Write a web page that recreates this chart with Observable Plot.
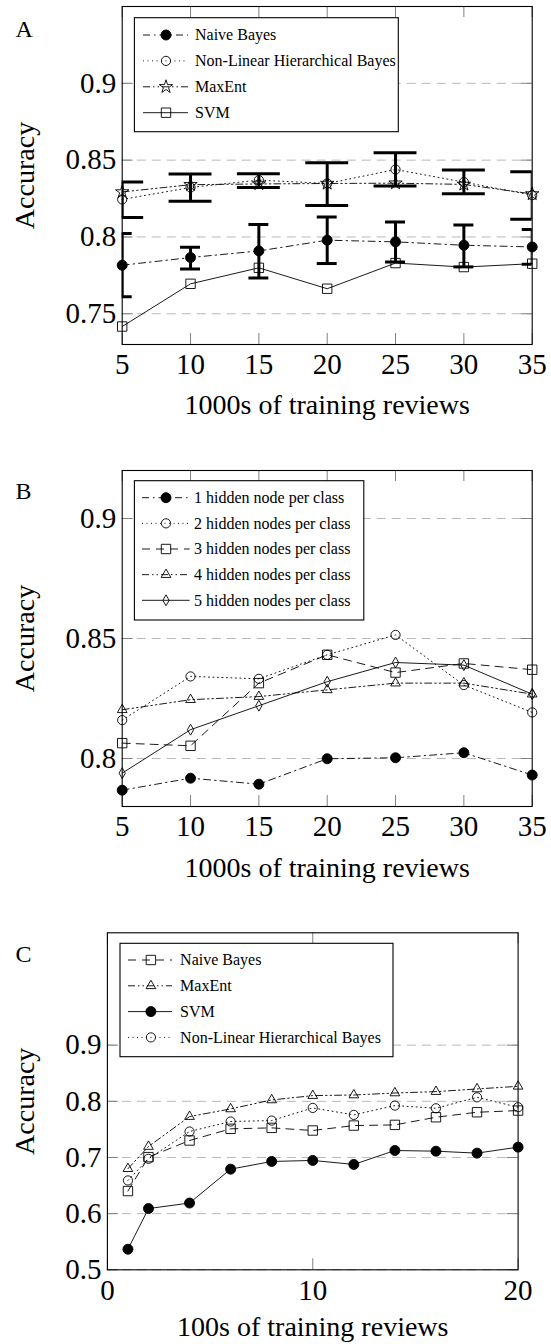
<!DOCTYPE html>
<html><head><meta charset="utf-8">
<script src="https://cdn.jsdelivr.net/npm/d3@7"></script>
<script src="https://cdn.jsdelivr.net/npm/@observablehq/plot@0.6"></script>
<style>
body{margin:0;background:#fff;}
#root{position:relative;width:551px;height:1344px;background:#fff;overflow:hidden;}
#root svg{position:absolute;left:0;}
</style></head><body><div id="root"></div>
<script>
// ---------- Panel A data ----------
const A_x = [5, 10, 15, 20, 25, 30, 35];
const A_naiveBayes      = [0.7816, 0.7866, 0.7909, 0.7979, 0.7968, 0.7946, 0.7935];
const A_naiveBayesLow   = [0.7610, 0.7792, 0.7733, 0.7827, 0.7837, 0.7805, 0.7822];
const A_naiveBayesHigh  = [0.8022, 0.7933, 0.8081, 0.8130, 0.8098, 0.8078, 0.8048];
const A_nlhb            = [0.8244, 0.8322, 0.8370, 0.8348, 0.8439, 0.8357, 0.8272];
const A_nlhbLow         = [0.8126, 0.8233, 0.8322, 0.8204, 0.8331, 0.8281, 0.8115];
const A_nlhbHigh        = [0.8357, 0.8409, 0.8411, 0.8483, 0.8548, 0.8435, 0.8424];
const A_maxEnt          = [0.8293, 0.8340, 0.8345, 0.8348, 0.8350, 0.8342, 0.8280];
const A_svm             = [0.7417, 0.7695, 0.7799, 0.7663, 0.7830, 0.7804, 0.7826];
const A_labels = ["Naive Bayes", "Non-Linear Hierarchical Bayes", "MaxEnt", "SVM"];
const A_xTicks = [5, 10, 15, 20, 25, 30, 35];
const A_yTicks = [0.75, 0.8, 0.85, 0.9];

// ---------- Panel B data ----------
const B_x = [5, 10, 15, 20, 25, 30, 35];
const B_hidden1 = [0.7868, 0.7918, 0.7893, 0.7999, 0.8003, 0.8024, 0.7931];
const B_hidden2 = [0.8160, 0.8342, 0.8332, 0.8432, 0.8515, 0.8306, 0.8192];
const B_hidden3 = [0.8064, 0.8053, 0.8314, 0.8432, 0.8358, 0.8396, 0.8370];
const B_hidden4 = [0.8203, 0.8245, 0.8258, 0.8286, 0.8314, 0.8314, 0.8268];
const B_hidden5 = [0.7939, 0.8120, 0.8220, 0.8320, 0.8400, 0.8389, 0.8268];
const B_labels = ["1 hidden node per class", "2 hidden nodes per class", "3 hidden nodes per class", "4 hidden nodes per class", "5 hidden nodes per class"];
const B_xTicks = [5, 10, 15, 20, 25, 30, 35];
const B_yTicks = [0.8, 0.85, 0.9];

// ---------- Panel C data ----------
const C_x = [1, 2, 4, 6, 8, 10, 12, 14, 16, 18, 20];
const C_naiveBayes = [0.6402, 0.7006, 0.7302, 0.7510, 0.7527, 0.7480, 0.7568, 0.7580, 0.7716, 0.7805, 0.7835];
const C_maxEnt     = [0.6800, 0.7195, 0.7728, 0.7864, 0.8024, 0.8101, 0.8112, 0.8148, 0.8172, 0.8220, 0.8267];
const C_svm        = [0.5366, 0.6090, 0.6189, 0.6792, 0.6929, 0.6947, 0.6876, 0.7124, 0.7112, 0.7077, 0.7184];
const C_nlhb       = [0.6591, 0.6976, 0.7462, 0.7640, 0.7657, 0.7882, 0.7758, 0.7924, 0.7876, 0.8071, 0.7894];
const C_labels = ["Naive Bayes", "MaxEnt", "SVM", "Non-Linear Hierarchical Bayes"];
const C_xTicks = [0, 10, 20];
const C_yTicks = [0.5, 0.6, 0.7, 0.8, 0.9];

// ---------- styles ----------
const FONT = "'Liberation Serif', 'Times New Roman', serif";
const DASH = {solid: null, dotted: "1,3.5", dashed: "8,6", dashdot: "7,4,1.5,4", dashdotdot: "7,3,1.5,3,1.5,3"};
const MARK = {
  fcircle: {symbol: "circle", r: 5, fill: "black"},
  ocircle: {symbol: "circle", r: 4.6, fill: "none"},
  square: {symbol: "square", r: 5.3, fill: "none"},
  triangle: {symbol: "triangle", r: 3.6, fill: "none"},
  diamond: {symbol: "diamond", r: 3.3, fill: "none"},
  star: {symbol: "star", r: 4.2, fill: "none"}
};
const SYM = {circle: d3.symbolCircle, square: d3.symbolSquare, triangle: d3.symbolTriangle, diamond: d3.symbolDiamond, star: d3.symbolStar};

function rows(xs, ys) { return xs.map((x, i) => ({x, y: ys[i]})); }

function makePanel(cfg) {
  const {top, height, ml, mr, mt, mb, xDomain, yDomain, xTicks, yTicks, series, errors = [], letter, letterBase, xLabel, xLabelDy, xTickPad, legend} = cfg;
  const frameH = height - mt - mb, frameW = 551 - ml - mr;
  const marks = [
    Plot.ruleY(yTicks, {y: d => d, stroke: "#b8b8b8", strokeWidth: 1, strokeDasharray: "9,6"}),
    Plot.tickX(xTicks, {x: d => d, stroke: "#808080", strokeWidth: 1, insetTop: frameH - 11}),
    Plot.tickX(xTicks, {x: d => d, stroke: "#808080", strokeWidth: 1, insetBottom: frameH - 11}),
    Plot.tickY(yTicks, {y: d => d, stroke: "#808080", strokeWidth: 1, insetRight: frameW - 11}),
    Plot.tickY(yTicks, {y: d => d, stroke: "#808080", strokeWidth: 1, insetLeft: frameW - 11})
  ];
  for (const s of series) {
    marks.push(Plot.line(s.data, {x: "x", y: "y", stroke: "black", strokeWidth: 0.9, strokeDasharray: DASH[s.dash]}));
  }
  for (const e of errors) {
    marks.push(Plot.ruleX(e.data, {x: "x", y1: "lo", y2: "hi", stroke: "black", strokeWidth: 3, clip: true}));
    marks.push(Plot.ruleY(e.data, {y: "lo", x1: d => d.x - e.half, x2: d => d.x + e.half, stroke: "black", strokeWidth: 3, clip: true}));
    marks.push(Plot.ruleY(e.data, {y: "hi", x1: d => d.x - e.half, x2: d => d.x + e.half, stroke: "black", strokeWidth: 3, clip: true}));
  }
  for (const s of series) {
    const m = MARK[s.mark];
    marks.push(Plot.dot(s.data, {x: "x", y: "y", symbol: m.symbol, r: m.r, fill: m.fill, stroke: "black", strokeWidth: 0.9}));
  }
  marks.push(
    Plot.frame({stroke: "black", strokeWidth: 1.1}),
    Plot.axisX({ticks: xTicks, anchor: "bottom", tickSize: 0, tickPadding: xTickPad, fontSize: 29, fontFamily: FONT, tickFormat: d => String(d), label: null}),
    Plot.axisY({ticks: yTicks, anchor: "left", tickSize: 0, tickPadding: 6, fontSize: 29, fontFamily: FONT, tickFormat: d => String(d), label: null}),
    Plot.text(["Accuracy"], {text: d => d, frameAnchor: "left", rotate: -90, dx: 33.5 - ml, lineAnchor: "bottom", textAnchor: "middle", fontSize: 28, fontFamily: FONT, fill: "black"}),
    Plot.text([xLabel], {text: d => d, frameAnchor: "bottom", dy: xLabelDy, lineAnchor: "bottom", textAnchor: "middle", fontSize: 28, fontFamily: FONT, fill: "black"}),
    Plot.text([letter], {text: d => d, frameAnchor: "top-left", dx: 15 - ml, dy: letterBase - mt, lineAnchor: "bottom", textAnchor: "start", fontSize: 24, fontFamily: FONT, fill: "black"})
  );
  const svg = Plot.plot({
    width: 551, height,
    marginLeft: ml, marginRight: mr, marginTop: mt, marginBottom: mb,
    x: {type: "linear", domain: xDomain},
    y: {type: "linear", domain: yDomain},
    style: {fontFamily: FONT, background: "white", color: "black", overflow: "visible"},
    marks
  });
  svg.style.top = top + "px";
  // legend
  const g = d3.select(svg).append("g").attr("font-family", FONT).attr("font-size", 16).attr("text-anchor", "start");
  g.append("rect").attr("x", legend.x0).attr("y", legend.y0).attr("width", legend.x1 - legend.x0).attr("height", legend.y1 - legend.y0)
    .attr("fill", "white").attr("stroke", "black").attr("stroke-width", 1.1);
  series.forEach((s, i) => {
    const y = legend.row0 + i * legend.step;
    const m = MARK[s.mark];
    g.append("line").attr("x1", legend.lx0).attr("x2", legend.lx1).attr("y1", y).attr("y2", y)
      .attr("stroke", "black").attr("stroke-width", 0.9).attr("stroke-dasharray", DASH[s.dash]);
    g.append("path").attr("transform", `translate(${legend.mx},${y})`)
      .attr("d", d3.symbol(SYM[m.symbol], Math.PI * m.r * m.r)())
      .attr("fill", m.fill).attr("stroke", "black").attr("stroke-width", 0.9);
    g.append("text").attr("x", legend.tx).attr("y", y).attr("dy", "0.34em").attr("text-anchor", "start").attr("fill", "black").text(s.label);
  });
  document.getElementById("root").appendChild(svg);
}

// Panel A
makePanel({
  top: 0, height: 430, ml: 121.7, mr: 19.3, mt: 6, mb: 86,
  xDomain: [5, 35], yDomain: [0.73, 0.95], xTicks: A_xTicks, yTicks: A_yTicks,
  letter: "A", letterBase: 36, xLabel: "1000s of training reviews", xLabelDy: 69, xTickPad: 8.5,
  series: [
    {label: A_labels[0], data: rows(A_x, A_naiveBayes), dash: "dashdot", mark: "fcircle"},
    {label: A_labels[1], data: rows(A_x, A_nlhb), dash: "dotted", mark: "ocircle"},
    {label: A_labels[2], data: rows(A_x, A_maxEnt), dash: "dashdotdot", mark: "star"},
    {label: A_labels[3], data: rows(A_x, A_svm), dash: "solid", mark: "square"}
  ],
  errors: [
    {data: A_x.map((x, i) => ({x, lo: A_nlhbLow[i], hi: A_nlhbHigh[i]})), half: 1.57},
    {data: A_x.map((x, i) => ({x, lo: A_naiveBayesLow[i], hi: A_naiveBayesHigh[i]})), half: 0.73}
  ],
  legend: {x0: 134.4, x1: 398.3, y0: 17.7, y1: 131.7, row0: 35, step: 25.9, lx0: 143, lx1: 188, mx: 166, tx: 195}
});

// Panel B
makePanel({
  top: 460, height: 430, ml: 121.7, mr: 19.3, mt: 10, mb: 84,
  xDomain: [5, 35], yDomain: [0.78, 0.92], xTicks: B_xTicks, yTicks: B_yTicks,
  letter: "B", letterBase: 38, xLabel: "1000s of training reviews", xLabelDy: 70.5, xTickPad: 8.5,
  series: [
    {label: B_labels[0], data: rows(B_x, B_hidden1), dash: "dashdot", mark: "fcircle"},
    {label: B_labels[1], data: rows(B_x, B_hidden2), dash: "dotted", mark: "ocircle"},
    {label: B_labels[2], data: rows(B_x, B_hidden3), dash: "dashed", mark: "square"},
    {label: B_labels[3], data: rows(B_x, B_hidden4), dash: "dashdotdot", mark: "triangle"},
    {label: B_labels[4], data: rows(B_x, B_hidden5), dash: "solid", mark: "diamond"}
  ],
  legend: {x0: 134.4, x1: 363.8, y0: 20.7, y1: 160, row0: 37.7, step: 25.65, lx0: 142, lx1: 189.6, mx: 166, tx: 194}
});

// Panel C
makePanel({
  top: 910, height: 434, ml: 106.9, mr: 33.4, mt: 22.3, mb: 74.7,
  xDomain: [0, 20], yDomain: [0.5, 1.1], xTicks: C_xTicks, yTicks: C_yTicks,
  letter: "C", letterBase: 51.7, xLabel: "100s of training reviews", xLabelDy: 66.5, xTickPad: 10,
  series: [
    {label: C_labels[0], data: rows(C_x, C_naiveBayes), dash: "dashed", mark: "square"},
    {label: C_labels[1], data: rows(C_x, C_maxEnt), dash: "dashdotdot", mark: "triangle"},
    {label: C_labels[2], data: rows(C_x, C_svm), dash: "solid", mark: "fcircle"},
    {label: C_labels[3], data: rows(C_x, C_nlhb), dash: "dotted", mark: "ocircle"}
  ],
  legend: {x0: 120, x1: 393, y0: 33.3, y1: 146.7, row0: 50, step: 25.8, lx0: 128, lx1: 172, mx: 150.9, tx: 180.1}
});
</script></body></html>
